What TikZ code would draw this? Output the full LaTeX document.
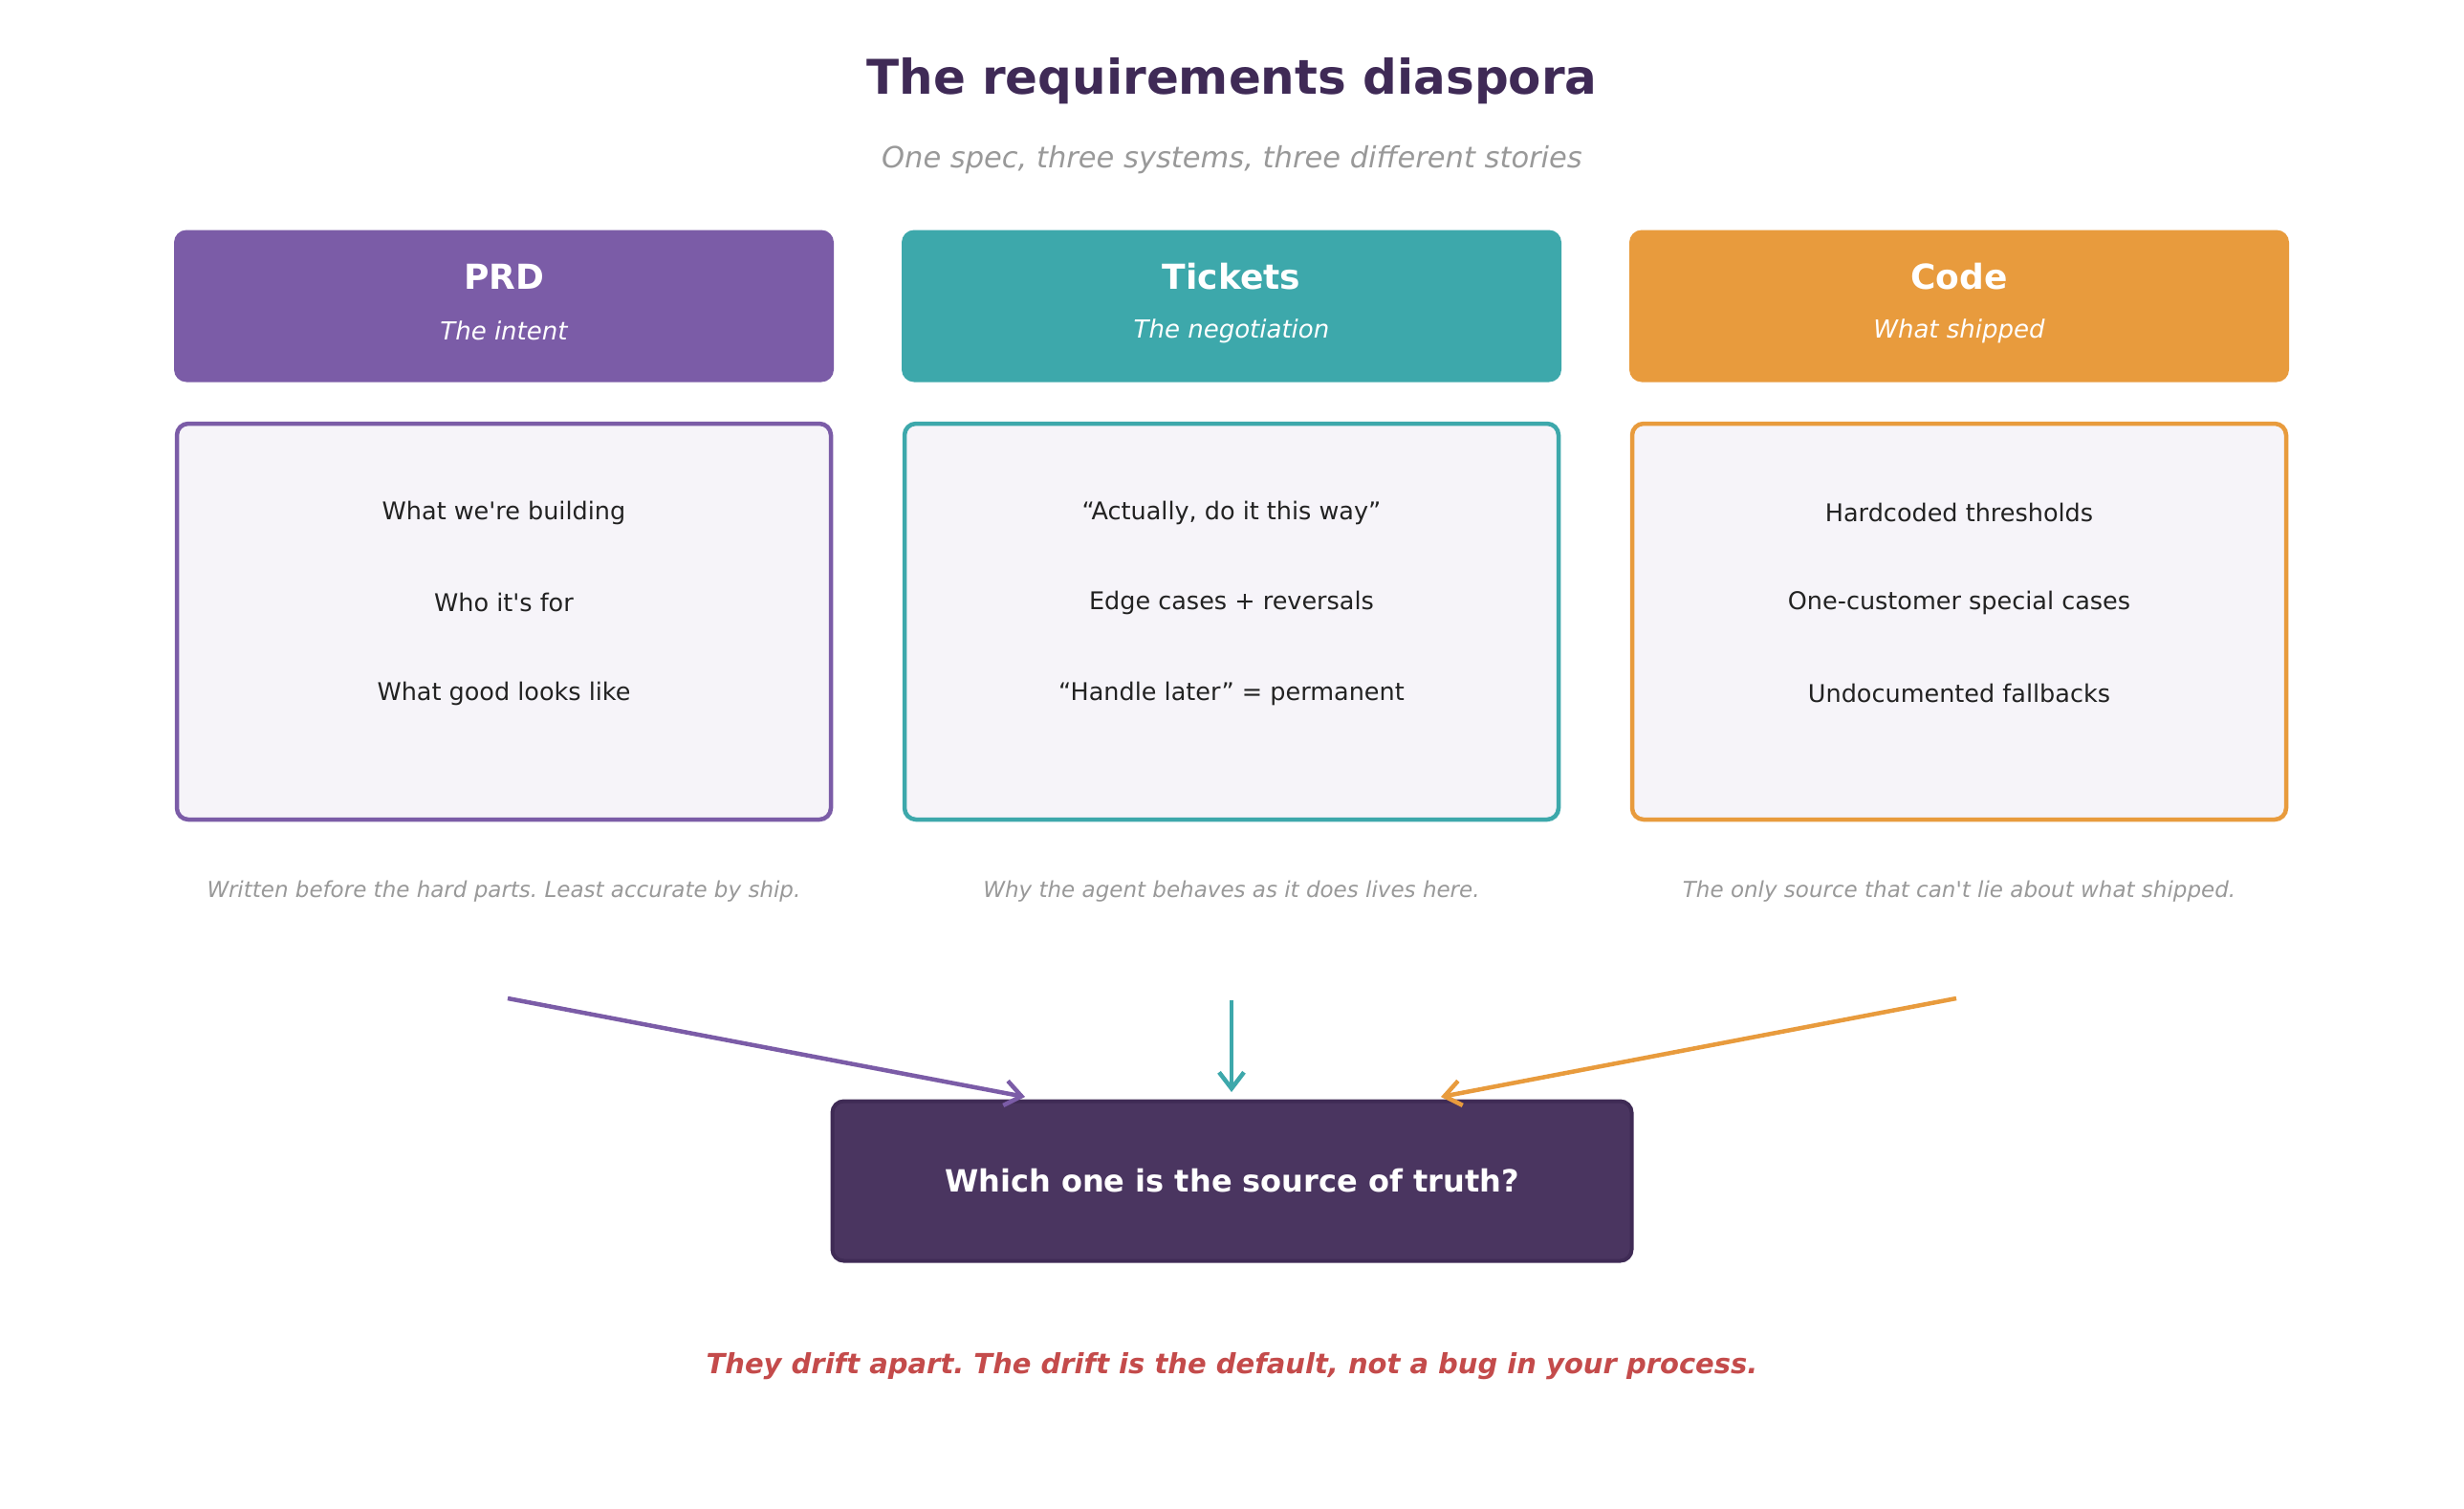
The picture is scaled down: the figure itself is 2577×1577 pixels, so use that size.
\documentclass[tikz,border=0pt]{standalone}
\usepackage{fontspec}
\setmainfont{DejaVu Sans}
\usetikzlibrary{arrows.meta}
\definecolor{prdc}{HTML}{7B5CA7}
\definecolor{tktc}{HTML}{3DA8AB}
\definecolor{codc}{HTML}{E89B3D}
\definecolor{bodyc}{HTML}{F6F4F9}
\definecolor{titc}{HTML}{3F2A56}
\definecolor{grayc}{HTML}{999999}
\definecolor{txtc}{HTML}{222222}
\definecolor{darkc}{HTML}{4A3560}
\definecolor{darkb}{HTML}{3F2B55}
\definecolor{redc}{HTML}{C44B4B}
\tikzset{
  headbox/.style={rounded corners=13pt, minimum width=690pt, minimum height=159pt, inner sep=0pt},
  bodybox/.style={rounded corners=12pt, fill=bodyc, line width=4.5pt, minimum width=684pt, minimum height=414pt, inner sep=0pt},
  headtitle/.style={text=white, font=\fontsize{36}{42}\selectfont\bfseries},
  headsub/.style={text=white, font=\fontsize{26}{31}\selectfont\itshape},
  bodytxt/.style={text=txtc, font=\fontsize{25.5}{30}\selectfont},
  foot/.style={text=grayc, font=\fontsize{23}{28}\selectfont\itshape},
  conn/.style={line width=4.5pt, -{Straight Barb[length=17pt,width=26pt,line width=4.5pt]}},
}
\frenchspacing
\begin{document}
\begin{tikzpicture}[x=1pt,y=-1pt]
\path[use as bounding box, fill=white] (0,0) rectangle (2577,1577);

\node (title) at (1288.5,85) [text=titc, font=\fontsize{50}{60}\selectfont\bfseries] {The requirements diaspora};
\node (sub) at (1288.5,167) [text=grayc, font=\fontsize{30.5}{36}\selectfont\itshape] {One spec, three systems, three different stories};

% PRD
\node (h1) at (527,320) [headbox, fill=prdc] {};
\node (h1t) at (527,289) [headtitle] {PRD};
\node (h1s) at (527,346) [headsub] {The intent};
\node (b1) at (527,650) [bodybox, draw=prdc] {};
\node (b1a) at (527,536) [bodytxt] {What we\textquotesingle re building};
\node (b1b) at (527,630) [bodytxt] {Who it\textquotesingle s for};
\node (b1c) at (527,725) [bodytxt] {What good looks like};
\node (f1) at (527,932) [foot] {Written before the hard parts. Least accurate by ship.};

% Tickets
\node (h2) at (1288,320) [headbox, fill=tktc] {};
\node (h2t) at (1288,289) [headtitle] {Tickets};
\node (h2s) at (1288,346) [headsub] {The negotiation};
\node (b2) at (1288,650) [bodybox, draw=tktc] {};
\node (b2a) at (1288,536) [bodytxt] {“Actually, do it this way”};
\node (b2b) at (1288,630) [bodytxt] {Edge cases + reversals};
\node (b2c) at (1288,725) [bodytxt] {“Handle later” = permanent};
\node (f2) at (1288,932) [foot] {Why the agent behaves as it does lives here.};

% Code
\node (h3) at (2049,320) [headbox, fill=codc] {};
\node (h3t) at (2049,289) [headtitle] {Code};
\node (h3s) at (2049,346) [headsub] {What shipped};
\node (b3) at (2049,650) [bodybox, draw=codc] {};
\node (b3a) at (2049,536) [bodytxt] {Hardcoded thresholds};
\node (b3b) at (2049,630) [bodytxt] {One-customer special cases};
\node (b3c) at (2049,725) [bodytxt] {Undocumented fallbacks};
\node (f3) at (2049,932) [foot] {The only source that can\textquotesingle t lie about what shipped.};

% bottom
\node (q) at (1288.5,1235) [rounded corners=12pt, fill=darkc, draw=darkb, line width=4pt, minimum width=836pt, minimum height=167pt, text=white, font=\fontsize{32}{38}\selectfont\bfseries] {Which one is the source of truth?};

\coordinate (s1) at (531,1044);
\coordinate (s2) at (1288,1046);
\coordinate (s3) at (2046,1044);
\coordinate (e1) at (1072,1147);
\coordinate (e2) at (1288,1142);
\coordinate (e3) at (1507,1147);
\draw[conn, prdc] (s1) -- (e1);
\draw[conn, tktc] (s2) -- (e2);
\draw[conn, codc] (s3) -- (e3);

\node (msg) at (1288.5,1429) [text=redc, font=\fontsize{29}{34}\selectfont\bfseries\itshape] {They drift apart. The drift is the default, not a bug in your process.};
\end{tikzpicture}
\end{document}
